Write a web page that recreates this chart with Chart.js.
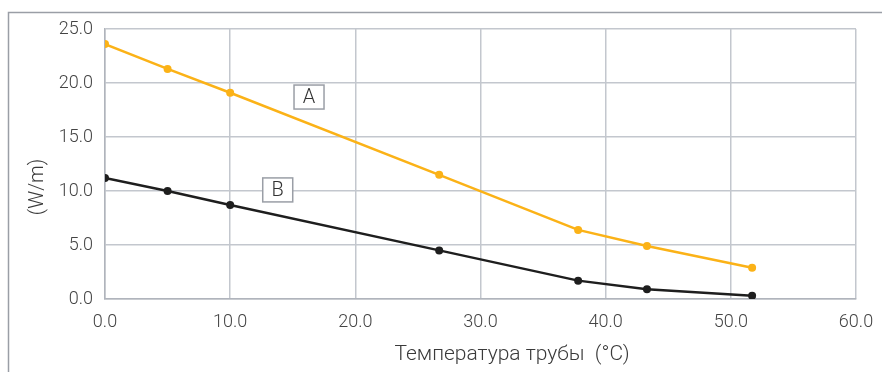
<!DOCTYPE html>
<html>
<head>
<meta charset="utf-8">
<script src="https://cdn.jsdelivr.net/npm/chart.js@4/dist/chart.umd.min.js"></script>
<style>
  html, body { margin: 0; padding: 0; background: #fff; }
  #wrap { width: 882px; height: 372px; position: relative; }
</style>
</head>
<body>
<div id="wrap"><canvas id="mycanvas" width="882" height="372"></canvas></div>
<script>
// pipe temperature (°C)
var temps = [0, 5, 10, 26.7, 37.8, 43.3, 51.7];
// heat output, W/m
var seriesA = [23.6, 21.3, 19.1, 11.5, 6.4, 4.9, 2.9];
var seriesB = [11.2, 10.0, 8.7, 4.5, 1.7, 0.9, 0.3];
var seriesNames = ["A", "B"];
// where the A / B boxes sit, in data units
var labelPos = [[16.3, 18.7], [13.8, 10.1]];
var xTitle = "Температура трубы  (°C)";
var yTitle = "(W/m)";

function pts(ys) {
    var out = [];
    for (var i in temps) {
        out.push({x: temps[i], y: ys[i]});
    }
    return out;
}

var frame = {
    id: 'frame',
    beforeDraw: function(chart) {
        var c = chart.ctx;
        c.save();
        c.strokeStyle = '#9a9ea6';
        c.lineWidth = 1.5;
        c.beginPath();
        c.moveTo(8.5, 372);
        c.lineTo(8.5, 12.5);
        c.lineTo(882, 12.5);
        c.stroke();
        // axis titles (placed off-centre like the original)
        c.fillStyle = '#3a3a3a';
        c.textAlign = 'center';
        c.textBaseline = 'middle';
        c.font = '300 21px Roboto';
        c.fillText(xTitle, 512, 355);
        c.font = '300 20px Roboto';
        c.translate(38, 187);
        c.rotate(-Math.PI / 2);
        c.fillText(yTitle, 0, 0);
        c.restore();
    }
};

var boxLabels = {
    id: 'boxLabels',
    afterDatasetsDraw: function(chart) {
        var c = chart.ctx;
        var xs = chart.scales.x, ys = chart.scales.y;
        c.save();
        c.font = '300 20px Roboto';
        c.textAlign = 'center';
        c.textBaseline = 'middle';
        for (var i in seriesNames) {
            var px = xs.getPixelForValue(labelPos[i][0]);
            var py = ys.getPixelForValue(labelPos[i][1]);
            c.fillStyle = '#fff';
            c.fillRect(px - 15, py - 12, 30, 24);
            c.strokeStyle = '#9a9ea6';
            c.lineWidth = 1.5;
            c.strokeRect(px - 15, py - 12, 30, 24);
            c.fillStyle = '#333';
            c.fillText(seriesNames[i], px, py + 1);
        }
        c.restore();
    }
};

var chartdata = {
    datasets: [
        {
            label: seriesNames[0],
            data: pts(seriesA),
            borderColor: "#fbb217",
            backgroundColor: "#fbb217",
            borderWidth: 2.5,
            pointRadius: 4,
            pointBorderWidth: 0,
            tension: 0
        },
        {
            label: seriesNames[1],
            data: pts(seriesB),
            borderColor: "#1e1e1e",
            backgroundColor: "#1e1e1e",
            borderWidth: 2.5,
            pointRadius: 4,
            pointBorderWidth: 0,
            tension: 0
        }
    ]
};

var ctx = document.getElementById('mycanvas');
var LineGraph = new Chart(ctx, {
    type: 'line',
    data: chartdata,
    plugins: [frame, boxLabels],
    options: {
        responsive: false,
        animation: false,
        layout: { padding: { left: 0, top: 29, right: 26, bottom: 0 } },
        plugins: { legend: { display: false }, tooltip: { enabled: false } },
        scales: {
            x: {
                type: 'linear',
                min: 0, max: 60,
                afterFit: function(s) { s.height = 73; s.paddingLeft = 0; s.paddingRight = 0; },
                ticks: {
                    stepSize: 10,
                    padding: 13,
                    color: '#444',
                    font: { family: 'Roboto', size: 18, weight: 300 },
                    callback: function(v) { return v.toFixed(1); }
                },
                grid: { color: '#c3c7ce', lineWidth: 1.5, drawTicks: false },
                border: { color: '#b0b4bc', width: 1.5 }
            },
            y: {
                min: 0, max: 25,
                afterFit: function(s) { s.width = 105; s.paddingTop = 0; s.paddingBottom = 0; },
                ticks: {
                    stepSize: 5,
                    padding: 12,
                    color: '#444',
                    font: { family: 'Roboto', size: 18, weight: 300 },
                    callback: function(v) { return v.toFixed(1); }
                },
                grid: { color: '#c3c7ce', lineWidth: 1.5, drawTicks: false },
                border: { color: '#b0b4bc', width: 1.5 }
            }
        }
    }
});
</script>
</body>
</html>
